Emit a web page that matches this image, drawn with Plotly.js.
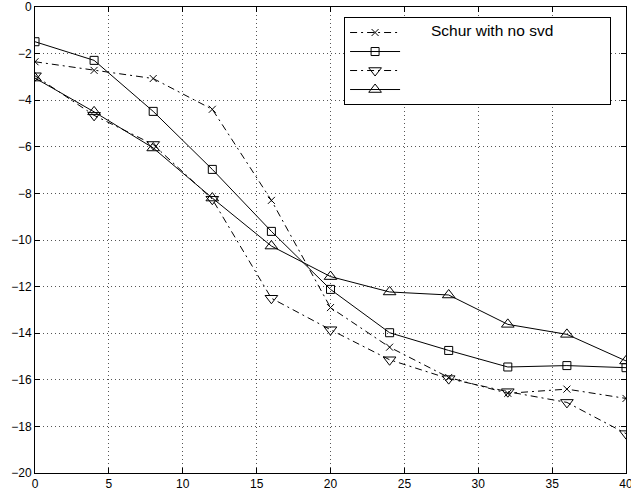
<!DOCTYPE html>
<html>
<head>
<meta charset="utf-8">
<script src="https://cdn.plot.ly/plotly-3.0.1.min.js"></script>
<style>html,body{margin:0;padding:0;background:#fff;}#chart{width:631px;height:494px;}</style>
</head>
<body>
<div id="chart"></div>
<script>
var xValues = [0, 4, 8, 12, 16, 20, 24, 28, 32, 36, 40];
var seriesCross = [-2.35, -2.72, -3.07, -4.39, -8.3, -12.9, -14.6, -15.9, -16.58, -16.4, -16.8];
var seriesSquare = [-1.49, -2.29, -4.48, -6.97, -9.63, -12.12, -13.98, -14.74, -15.45, -15.39, -15.48];
var seriesDown = [-2.95, -4.65, -5.9, -8.25, -12.5, -13.85, -15.14, -15.95, -16.51, -16.97, -18.31];
var seriesUp = [-3.05, -4.5, -6.05, -8.2, -10.26, -11.57, -12.23, -12.36, -13.62, -14.05, -15.19];
var legendNames = ["Schur with no svd", " ", " ", " "];
var xTicks = [0, 5, 10, 15, 20, 25, 30, 35, 40];
var yTicks = [0, -2, -4, -6, -8, -10, -12, -14, -16, -18, -20];

var dashDot = "7px,4px,2px,4px";
var padL = "\u00a0\u00a0\u00a0\u00a0\u00a0\u00a0";
var padR = "\u00a0\u00a0\u00a0\u00a0\u00a0\u00a0\u00a0\u00a0\u00a0\u00a0\u00a0\u00a0";
var traces = [
  {x: xValues, y: seriesCross, name: '<span style="font-size:15.5px">' + padL + legendNames[0] + padR + '</span>', mode: "lines+markers",
   line: {color: "black", width: 1, dash: dashDot},
   marker: {symbol: "x-thin", size: 7, line: {color: "black", width: 1}}},
  {x: xValues, y: seriesSquare, name: legendNames[1], mode: "lines+markers",
   line: {color: "black", width: 1},
   marker: {symbol: "square-open", size: 8, color: "black", line: {width: 1}}},
  {x: xValues, y: seriesDown, name: legendNames[2], mode: "lines+markers",
   line: {color: "black", width: 1, dash: dashDot},
   marker: {symbol: "triangle-down-open", size: 11, color: "black", line: {width: 1}}},
  {x: xValues, y: seriesUp, name: legendNames[3], mode: "lines+markers",
   line: {color: "black", width: 1},
   marker: {symbol: "triangle-up-open", size: 11, color: "black", line: {width: 1}}}
];

var axisCommon = {
  showline: true, linecolor: "black", linewidth: 1, mirror: "ticks",
  ticks: "inside", ticklen: 5, tickcolor: "black", tickwidth: 1,
  showgrid: true, gridcolor: "#555", griddash: "1px,3px", gridwidth: 1,
  zeroline: false, ticklabeloverflow: "allow",
  tickfont: {family: "Liberation Sans, Arial, sans-serif", size: 12, color: "black"}
};

var layout = {
  width: 631, height: 494,
  margin: {l: 35, r: 5, t: 7, b: 21},
  paper_bgcolor: "white", plot_bgcolor: "white",
  showlegend: true,
  xaxis: Object.assign({}, axisCommon, {range: [0, 40], tickvals: xTicks, ticktext: xTicks.map(String)}),
  yaxis: Object.assign({}, axisCommon, {range: [-20, 0], tickvals: yTicks, ticktext: yTicks.map(function(v){return v < 0 ? "\u2212" + Math.abs(v) : String(v);})}),
  legend: {x: 0.523, y: 0.9785, xanchor: "left", yanchor: "top", bordercolor: "black", borderwidth: 1,
           bgcolor: "white", itemwidth: 50, font: {family: "Liberation Sans, Arial, sans-serif", size: 10, color: "black"},
           tracegroupgap: 0}
};

Plotly.newPlot("chart", traces, layout, {displayModeBar: false, staticPlot: true});
</script>
</body>
</html>
